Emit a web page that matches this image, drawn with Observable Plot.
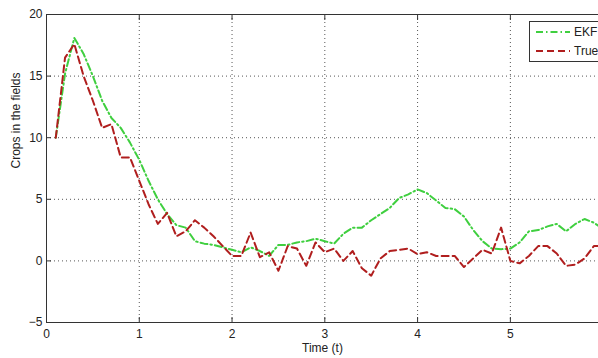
<!DOCTYPE html>
<html><head><meta charset="utf-8">
<script src="https://cdn.jsdelivr.net/npm/d3@7"></script>
<script src="https://cdn.jsdelivr.net/npm/@observablehq/plot@0.6"></script>
<style>
body{margin:0;background:#fff;}
#wrap{position:relative;width:598px;height:358px;overflow:hidden;font-family:"Liberation Sans",Arial,sans-serif;}
#legend{position:absolute;left:529px;top:21px;width:80px;height:39px;border:1px solid #333;background:#fff;font-size:12px;color:#222;}
#legend .row{position:absolute;left:6px;height:14px;display:flex;align-items:center;}
#legend span{margin-left:4px;}
</style></head><body><div id="wrap"><div id="legend"></div></div>
<script>
const times = [0.1,0.2,0.3,0.4,0.5,0.6,0.7,0.8,0.9,1.0,1.1,1.2,1.3,1.4,1.5,1.6,1.7,1.8,1.9,2.0,2.1,2.2,2.3,2.4,2.5,2.6,2.7,2.8,2.9,3.0,3.1,3.2,3.3,3.4,3.5,3.6,3.7,3.8,3.9,4.0,4.1,4.2,4.3,4.4,4.5,4.6,4.7,4.8,4.9,5.0,5.1,5.2,5.3,5.4,5.5,5.6,5.7,5.8,5.9,6.0];
const ekfValues = [10,15.2,18.1,16.8,15.0,13.0,11.6,10.8,9.6,8.2,6.5,5.0,3.8,2.9,2.7,1.6,1.4,1.3,1.1,0.9,0.7,1.1,0.8,0.4,1.3,1.3,1.5,1.6,1.8,1.6,1.4,2.2,2.7,2.7,3.3,3.8,4.3,5.1,5.4,5.8,5.5,4.9,4.3,4.2,3.6,2.5,1.6,1.0,0.95,1.0,1.5,2.4,2.5,2.8,3.0,2.4,3.0,3.4,3.1,2.6];
const trueValues = [10,16.5,17.6,15.0,13.0,10.8,11.1,8.4,8.4,6.5,4.6,3.0,3.9,2.0,2.4,3.3,2.7,2.0,1.2,0.4,0.4,2.3,0.3,0.7,-0.8,1.2,1.0,-0.4,1.5,0.7,1.0,0.0,0.8,-0.6,-1.2,0.2,0.8,0.9,1.0,0.55,0.7,0.4,0.4,0.4,-0.5,0.2,0.9,0.6,2.7,0.0,-0.2,0.4,1.2,1.2,0.6,-0.4,-0.3,0.2,1.2,1.2];
const seriesNames = ["EKF","True"];
const seriesColors = ["#3fcf3f","#b01e1e"];
const seriesDash = ["7,3,1.5,3","7,4"];
const xTicks = [0,1,2,3,4,5];
const yTicks = [-5,0,5,10,15,20];
const xLabel = "Time (t)";
const yLabel = "Crops in the fields";

const ekfData = times.map((t,i)=>({t, v: ekfValues[i]}));
const trueData = times.map((t,i)=>({t, v: trueValues[i]}));

const chart = Plot.plot({
  width: 598, height: 358,
  marginLeft: 46, marginRight: 0, marginTop: 14, marginBottom: 36,
  style: {fontFamily: "'Liberation Sans', Arial, sans-serif", fontSize: "12px", color: "#222", background: "white"},
  x: {domain: [0, 5.95]},
  y: {domain: [-5, 20]},
  marks: [
    Plot.gridX(xTicks.filter(d => d > 0), {stroke: "#444", strokeOpacity: 0.9, strokeDasharray: "1,3"}),
    Plot.gridY(yTicks.filter(d => d > -5 && d < 20), {stroke: "#444", strokeOpacity: 0.9, strokeDasharray: "1,3"}),
    Plot.line(ekfData, {x: "t", y: "v", stroke: seriesColors[0], strokeWidth: 2, strokeDasharray: seriesDash[0], clip: true}),
    Plot.line(trueData, {x: "t", y: "v", stroke: seriesColors[1], strokeWidth: 2, strokeDasharray: seriesDash[1], clip: true}),
    Plot.ruleY([-5, 20], {stroke: "#333"}),
    Plot.ruleX([0], {stroke: "#333"}),
    Plot.axisX(xTicks, {anchor: "bottom", tickSize: -5, tickPadding: 12, label: null, stroke: "#333"}),
    Plot.axisX(xTicks, {anchor: "top", tickSize: -5, tickFormat: () => "", label: null, stroke: "#333"}),
    Plot.axisY(yTicks, {anchor: "left", tickSize: -5, tickPadding: 9, label: null, stroke: "#333"}),
    Plot.text([xLabel], {frameAnchor: "bottom", dy: 29, fill: "#222"}),
    Plot.text([yLabel], {frameAnchor: "left", rotate: -90, dx: -30, fill: "#222"})
  ]
});
const wrap = document.getElementById("wrap");
wrap.insertBefore(chart, wrap.firstChild);

const legend = document.getElementById("legend");
seriesNames.forEach((name, i) => {
  const row = document.createElement("div");
  row.className = "row";
  row.style.top = (3 + i * 19) + "px";
  row.innerHTML = `<svg width="34" height="6"><line x1="0" y1="3" x2="34" y2="3" stroke="${seriesColors[i]}" stroke-width="2" stroke-dasharray="${seriesDash[i]}"/></svg><span>${name}</span>`;
  legend.appendChild(row);
});
</script></body></html>
